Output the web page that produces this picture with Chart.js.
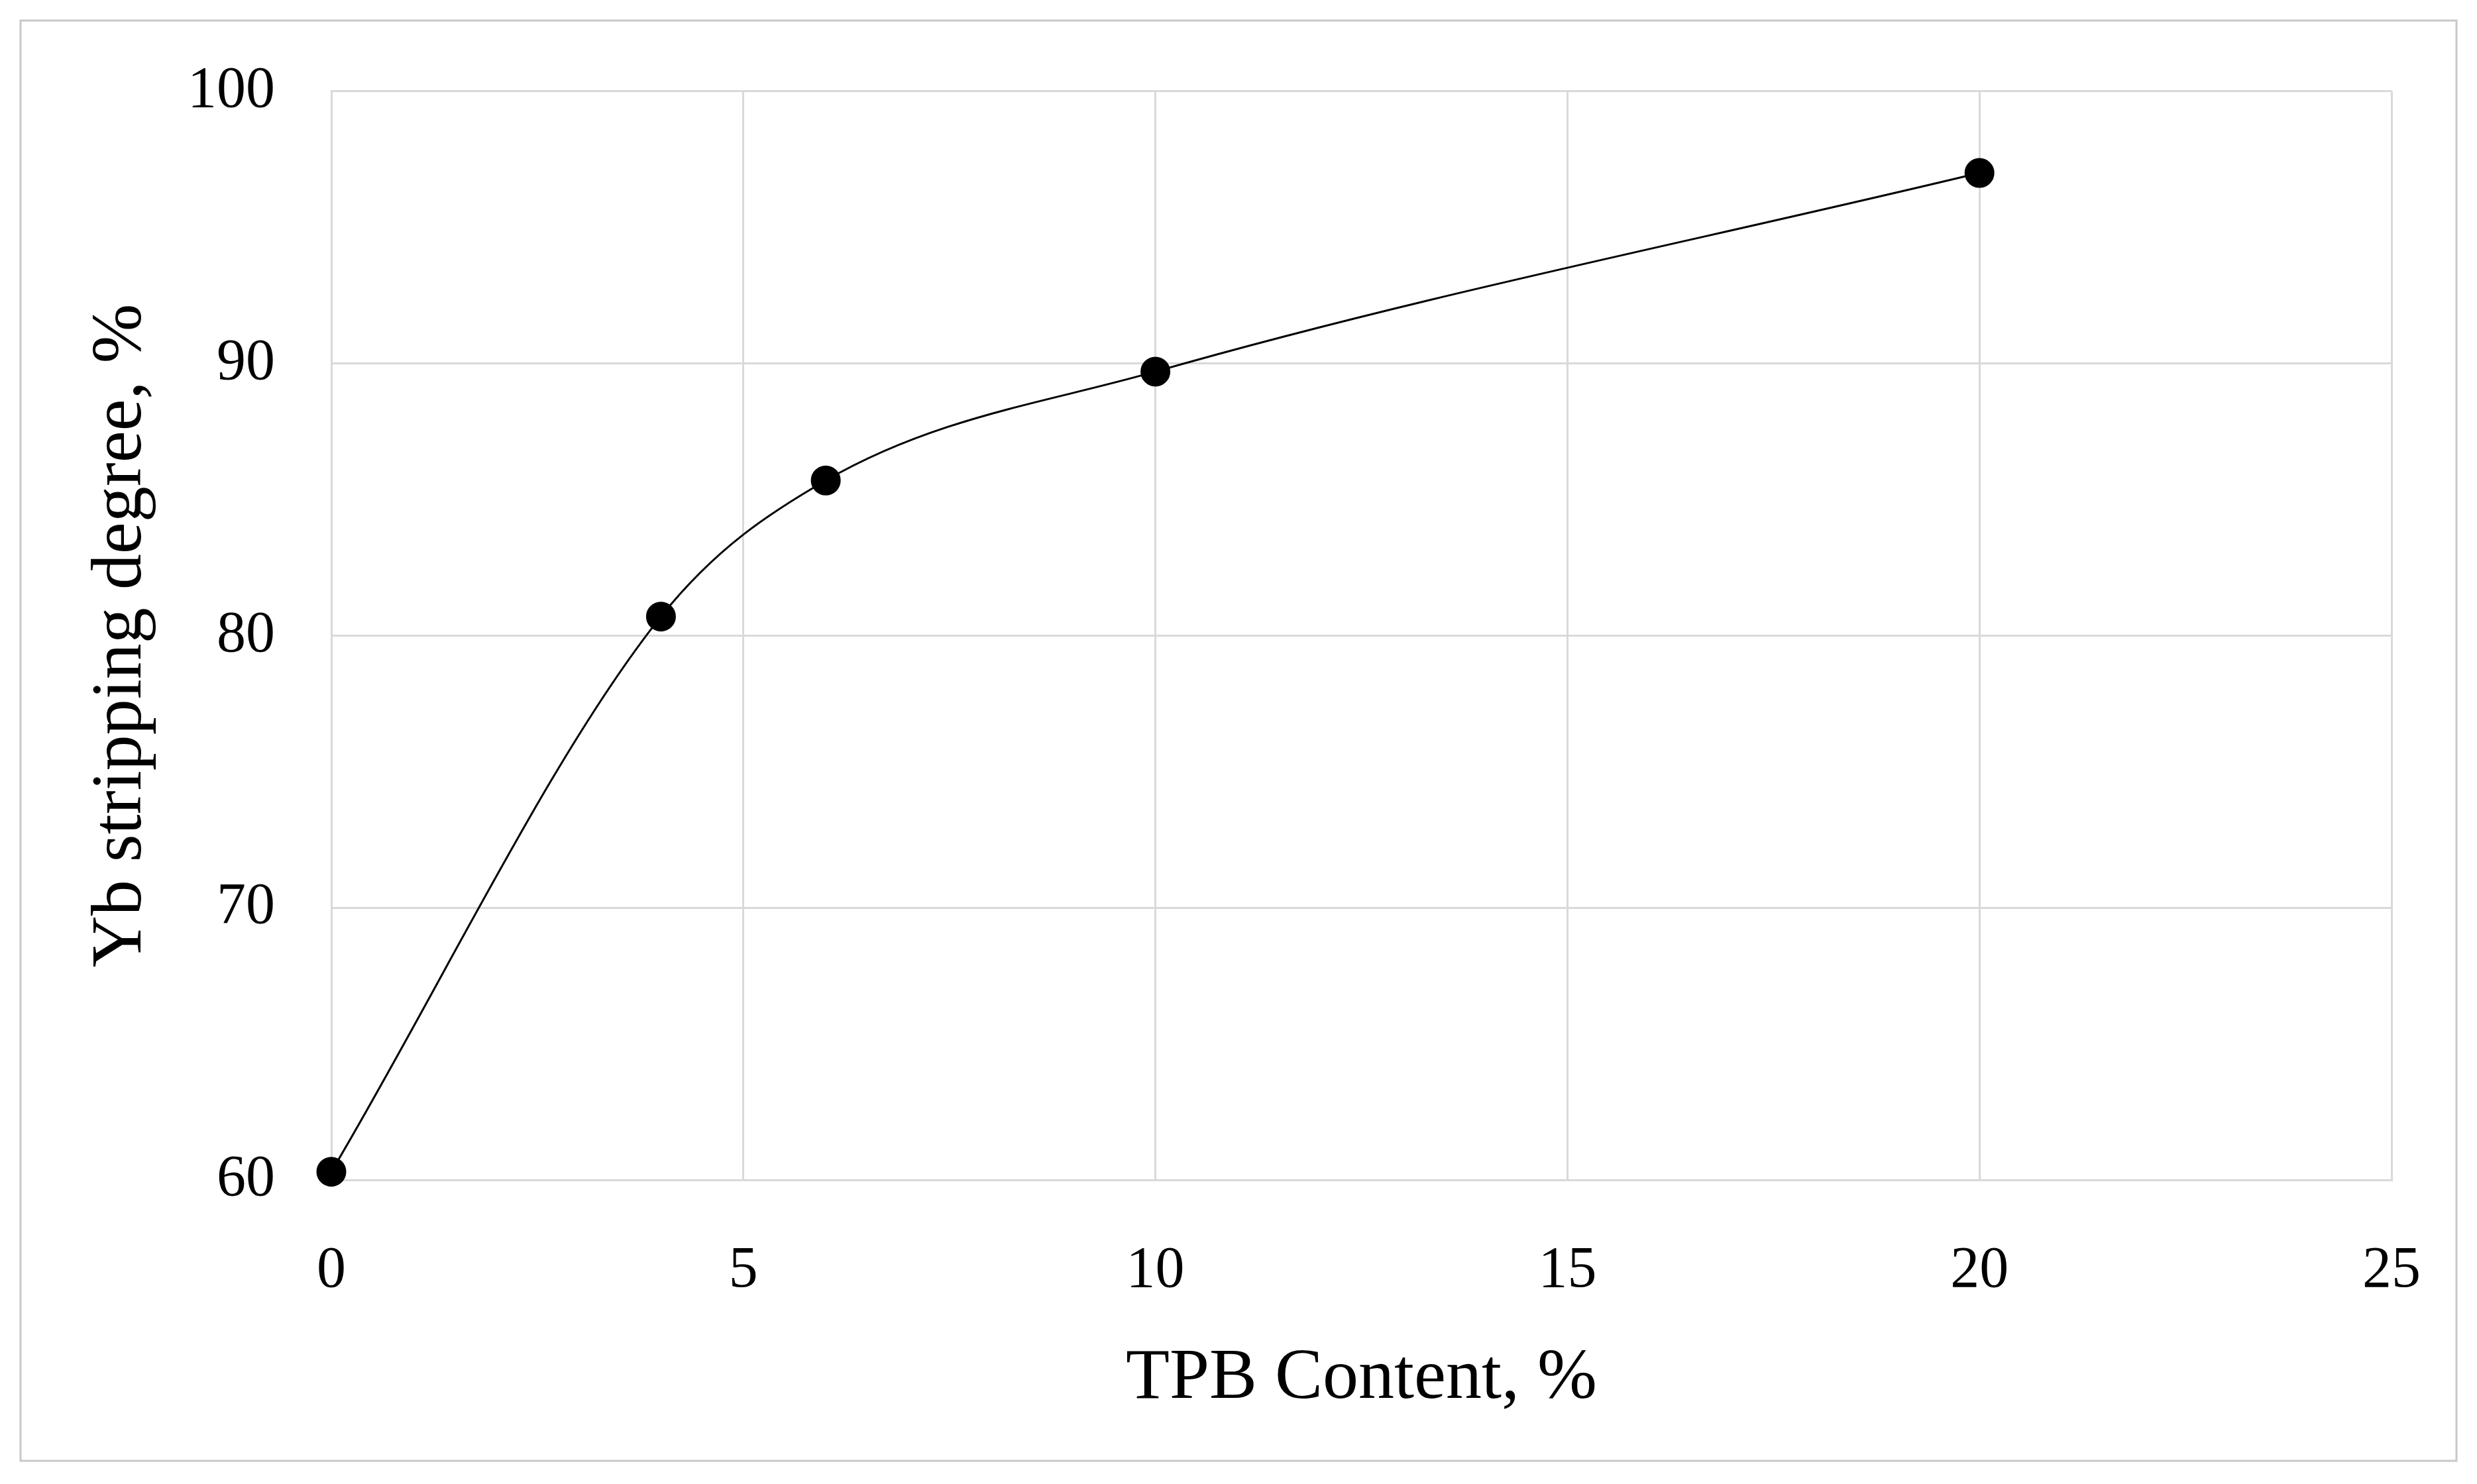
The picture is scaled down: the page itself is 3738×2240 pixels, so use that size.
<!DOCTYPE html>
<html><head><meta charset="utf-8">
<script src="https://cdn.jsdelivr.net/npm/chart.js@4"></script>
<style>html,body{margin:0;padding:0;background:#fff}#w{width:3738px;height:2240px}</style>
</head><body><div id="w"><canvas id="c" width="3738" height="2240"></canvas></div>
<script>
const tpbContent = [0, 4, 6, 10, 20];
const ybStripping = [60.3, 80.7, 85.7, 89.7, 97.0];
const xTicks = [0, 5, 10, 15, 20, 25];
const yTicks = [60, 70, 80, 90, 100];
const xTitle = 'TPB Content, %';
const yTitle = 'Yb stripping degree, %';

const frame = {id:'frame', beforeDraw(ch){const c=ch.ctx;c.save();c.fillStyle='#fff';c.fillRect(0,0,ch.width,ch.height);c.strokeStyle='#c8c8c8';c.lineWidth=3;c.strokeRect(31,31,3676,2174);c.restore();}};
const font = "'Liberation Serif', 'DejaVu Serif', serif";
new Chart(document.getElementById('c'), {
  type:'scatter',
  data:{datasets:[{data:tpbContent.map((x,i)=>({x,y:ybStripping[i]})),showLine:true,cubicInterpolationMode:'monotone',clip:false,
    borderColor:'#000',borderWidth:3,pointRadius:21,pointBackgroundColor:'#000',pointBorderColor:'#000'}]},
  options:{responsive:false,animation:false,devicePixelRatio:1,
    layout:{padding:{left:115,right:129,top:114,bottom:90}},
    plugins:{legend:{display:false},tooltip:{enabled:false}},
    scales:{
      x:{type:'linear',min:0,max:25,afterBuildTicks:a=>{a.ticks=xTicks.map(v=>({value:v}))},
        grid:{color:'#d9d9d9',lineWidth:3,drawTicks:false},border:{color:'#d9d9d9',width:3},
        ticks:{color:'#000',font:{family:font,size:88},padding:85},
        title:{display:true,text:xTitle,color:'#000',font:{family:font,size:108},padding:{top:20}},
        afterFit:s=>{s.height=369}},
      y:{type:'linear',min:60,max:100,afterBuildTicks:a=>{a.ticks=yTicks.map(v=>({value:v}))},
        grid:{color:'#d9d9d9',lineWidth:3,drawTicks:false},border:{color:'#d9d9d9',width:3},
        ticks:{color:'#000',font:{family:font,size:88},padding:85},
        title:{display:true,text:yTitle,color:'#000',font:{family:font,size:108},padding:{bottom:20}},
        afterFit:s=>{s.width=385}}
    }},
  plugins:[frame]
});
</script></body></html>
